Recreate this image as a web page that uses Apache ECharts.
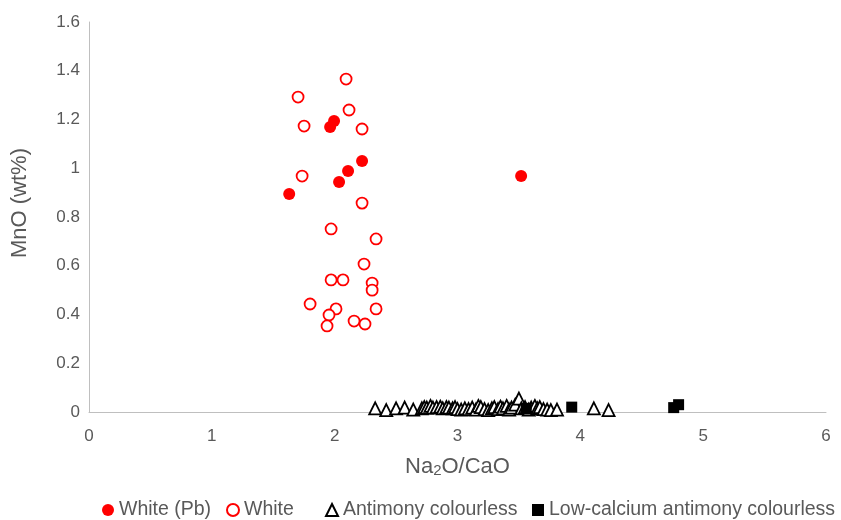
<!DOCTYPE html>
<html>
<head>
<meta charset="utf-8">
<script src="https://cdn.jsdelivr.net/npm/echarts@6/dist/echarts.min.js"></script>
<style>html,body{margin:0;padding:0;background:#fff}#c{width:841px;height:520px}</style>
</head>
<body>
<div id="c"></div>
<script>
const seriesNames = ['White (Pb)', 'White', 'Antimony colourless', 'Low-calcium antimony colourless'];
const xTicks = [0, 1, 2, 3, 4, 5, 6];
const yTicks = [0, 0.2, 0.4, 0.6, 0.8, 1, 1.2, 1.4, 1.6];

const whitePb = [
  [1.63, 0.894], [1.963, 1.169], [1.995, 1.194], [2.036, 0.944],
  [2.109, 0.989], [2.223, 1.03], [3.518, 0.968]
];
const white = [
  [2.093, 1.366], [1.702, 1.292], [2.117, 1.239], [1.751, 1.173], [2.223, 1.161],
  [1.735, 0.968], [2.223, 0.857], [1.971, 0.751], [2.337, 0.71], [2.239, 0.607],
  [1.971, 0.542], [2.068, 0.542], [2.305, 0.529], [2.305, 0.5], [1.8, 0.443],
  [2.011, 0.423], [2.337, 0.423], [1.954, 0.398], [2.158, 0.373], [2.247, 0.361],
  [1.938, 0.353]
];
const antimony = [
  [2.33, 0.015], [2.42, 0.008], [2.50, 0.015], [2.57, 0.018], [2.64, 0.01],
  [2.71, 0.015], [2.73, 0.02], [2.75, 0.018], [2.78, 0.025], [2.80, 0.018],
  [2.83, 0.02], [2.86, 0.022], [2.88, 0.015], [2.91, 0.02], [2.93, 0.018],
  [2.96, 0.015], [2.98, 0.02], [3.00, 0.012], [3.03, 0.01], [3.06, 0.015],
  [3.09, 0.012], [3.12, 0.018], [3.15, 0.01], [3.17, 0.025], [3.19, 0.02],
  [3.22, 0.012], [3.25, 0.008], [3.28, 0.015], [3.30, 0.02], [3.33, 0.012],
  [3.35, 0.022], [3.37, 0.015], [3.40, 0.025], [3.42, 0.01], [3.44, 0.018],
  [3.47, 0.03], [3.50, 0.055], [3.52, 0.015], [3.55, 0.02], [3.58, 0.01],
  [3.60, 0.018], [3.63, 0.025], [3.65, 0.015], [3.67, 0.02], [3.70, 0.012],
  [3.73, 0.01], [3.76, 0.008], [3.81, 0.01], [4.11, 0.015], [4.23, 0.008]
];
const lowCalcium = [
  [3.56, 0.015], [3.93, 0.02], [4.76, 0.018], [4.80, 0.03]
];

const chart = echarts.init(document.getElementById('c'), null, {renderer: 'canvas'});
const FONT = 'Liberation Sans';
const GREY = '#595959';
const AXIS = '#bfbfbf';

function legendAt(name, left) {
  return {
    data: [name], left: left, top: 500, itemWidth: 12, itemHeight: 12, itemGap: 0,
    padding: 0,
    textStyle: {fontFamily: FONT, fontSize: 19.5, color: GREY}
  };
}

chart.setOption({
  animation: false,
  backgroundColor: '#fff',
  grid: {left: 89, right: 15, top: 22, bottom: 108, containLabel: false},
  legend: [
    legendAt(seriesNames[0], 102),
    legendAt(seriesNames[1], 226),
    legendAt(seriesNames[2], 325),
    legendAt(seriesNames[3], 532)
  ],
  xAxis: {
    type: 'value', min: xTicks[0], max: xTicks[xTicks.length - 1], interval: 1,
    name: 'Na{sub|2}O/CaO', nameLocation: 'middle', nameGap: 44,
    nameTextStyle: {fontFamily: FONT, fontSize: 22, color: GREY,
      rich: {sub: {fontFamily: FONT, fontSize: 15, color: GREY, verticalAlign: 'bottom', padding: [6, 0, 0, 0]}}},
    axisLine: {show: true, lineStyle: {color: AXIS, width: 1}},
    axisTick: {show: false},
    splitLine: {show: false},
    axisLabel: {fontFamily: FONT, fontSize: 17, color: GREY, margin: 16}
  },
  yAxis: {
    type: 'value', min: yTicks[0], max: yTicks[yTicks.length - 1], interval: 0.2,
    name: 'MnO (wt%)', nameLocation: 'middle', nameGap: 58,
    nameTextStyle: {fontFamily: FONT, fontSize: 22, color: GREY, padding: [0, 0, 0, 28]},
    axisLine: {show: true, lineStyle: {color: AXIS, width: 1}},
    axisTick: {show: false},
    splitLine: {show: false},
    axisLabel: {fontFamily: FONT, fontSize: 17, color: GREY, margin: 9}
  },
  series: [
    {name: seriesNames[0], type: 'scatter', data: whitePb, symbol: 'circle', symbolSize: 12,
      itemStyle: {color: '#ff0000', opacity: 1}, z: 4},
    {name: seriesNames[1], type: 'scatter', data: white, symbol: 'circle', symbolSize: 11,
      itemStyle: {color: '#ffffff', borderColor: '#ff0000', borderWidth: 1.8, opacity: 1}, z: 3},
    {name: seriesNames[2], type: 'scatter', data: antimony, symbol: 'triangle', symbolSize: 12,
      itemStyle: {color: '#ffffff', borderColor: '#000000', borderWidth: 1.8, opacity: 1}, z: 2},
    {name: seriesNames[3], type: 'scatter', data: lowCalcium, symbol: 'rect', symbolSize: 11,
      itemStyle: {color: '#000000', opacity: 1}, z: 5}
  ]
});
</script>
</body>
</html>
